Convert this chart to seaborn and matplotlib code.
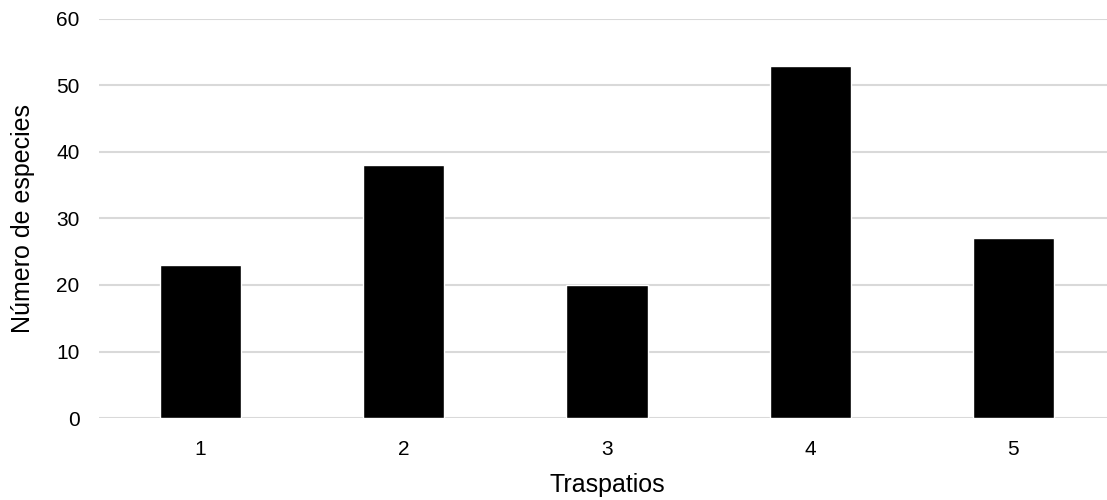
import pandas as pd
import matplotlib.pyplot as plt
import seaborn as sns

# Datos
traspatios = ["1", "2", "3", "4", "5"]
especies = [23, 38, 20, 53, 27]

df = pd.DataFrame({"Traspatios": traspatios, "Especies": especies})

sns.set_style("white")
plt.rcParams['font.family'] = ['Liberation Sans', 'DejaVu Sans']
plt.rcParams['text.color'] = 'black'
plt.rcParams['axes.labelcolor'] = 'black'
plt.rcParams['xtick.color'] = 'black'
plt.rcParams['ytick.color'] = 'black'

fig = plt.figure(figsize=(11.07, 5), dpi=100)
ax = fig.add_axes([99 / 1107, 82 / 500, 1016 / 1107, 399 / 500])

sns.barplot(data=df, x="Traspatios", y="Especies", color="black",
            width=0.4, saturation=1, ax=ax, zorder=3)

ax.set_ylim(0, 60)
ax.set_yticks(range(0, 61, 10))
ax.yaxis.grid(True, color="#d9d9d9", linewidth=1.5, zorder=0)
ax.set_axisbelow(True)
for s in ax.spines.values():
    s.set_visible(False)

ax.tick_params(axis="y", length=0, pad=14, labelsize=15)
ax.tick_params(axis="x", length=0, pad=16, labelsize=15)
ax.set_xlabel("Traspatios", fontsize=18, labelpad=10)
ax.set_ylabel("Número de especies", fontsize=18, labelpad=15)

fig.savefig("out.png", dpi=100)
